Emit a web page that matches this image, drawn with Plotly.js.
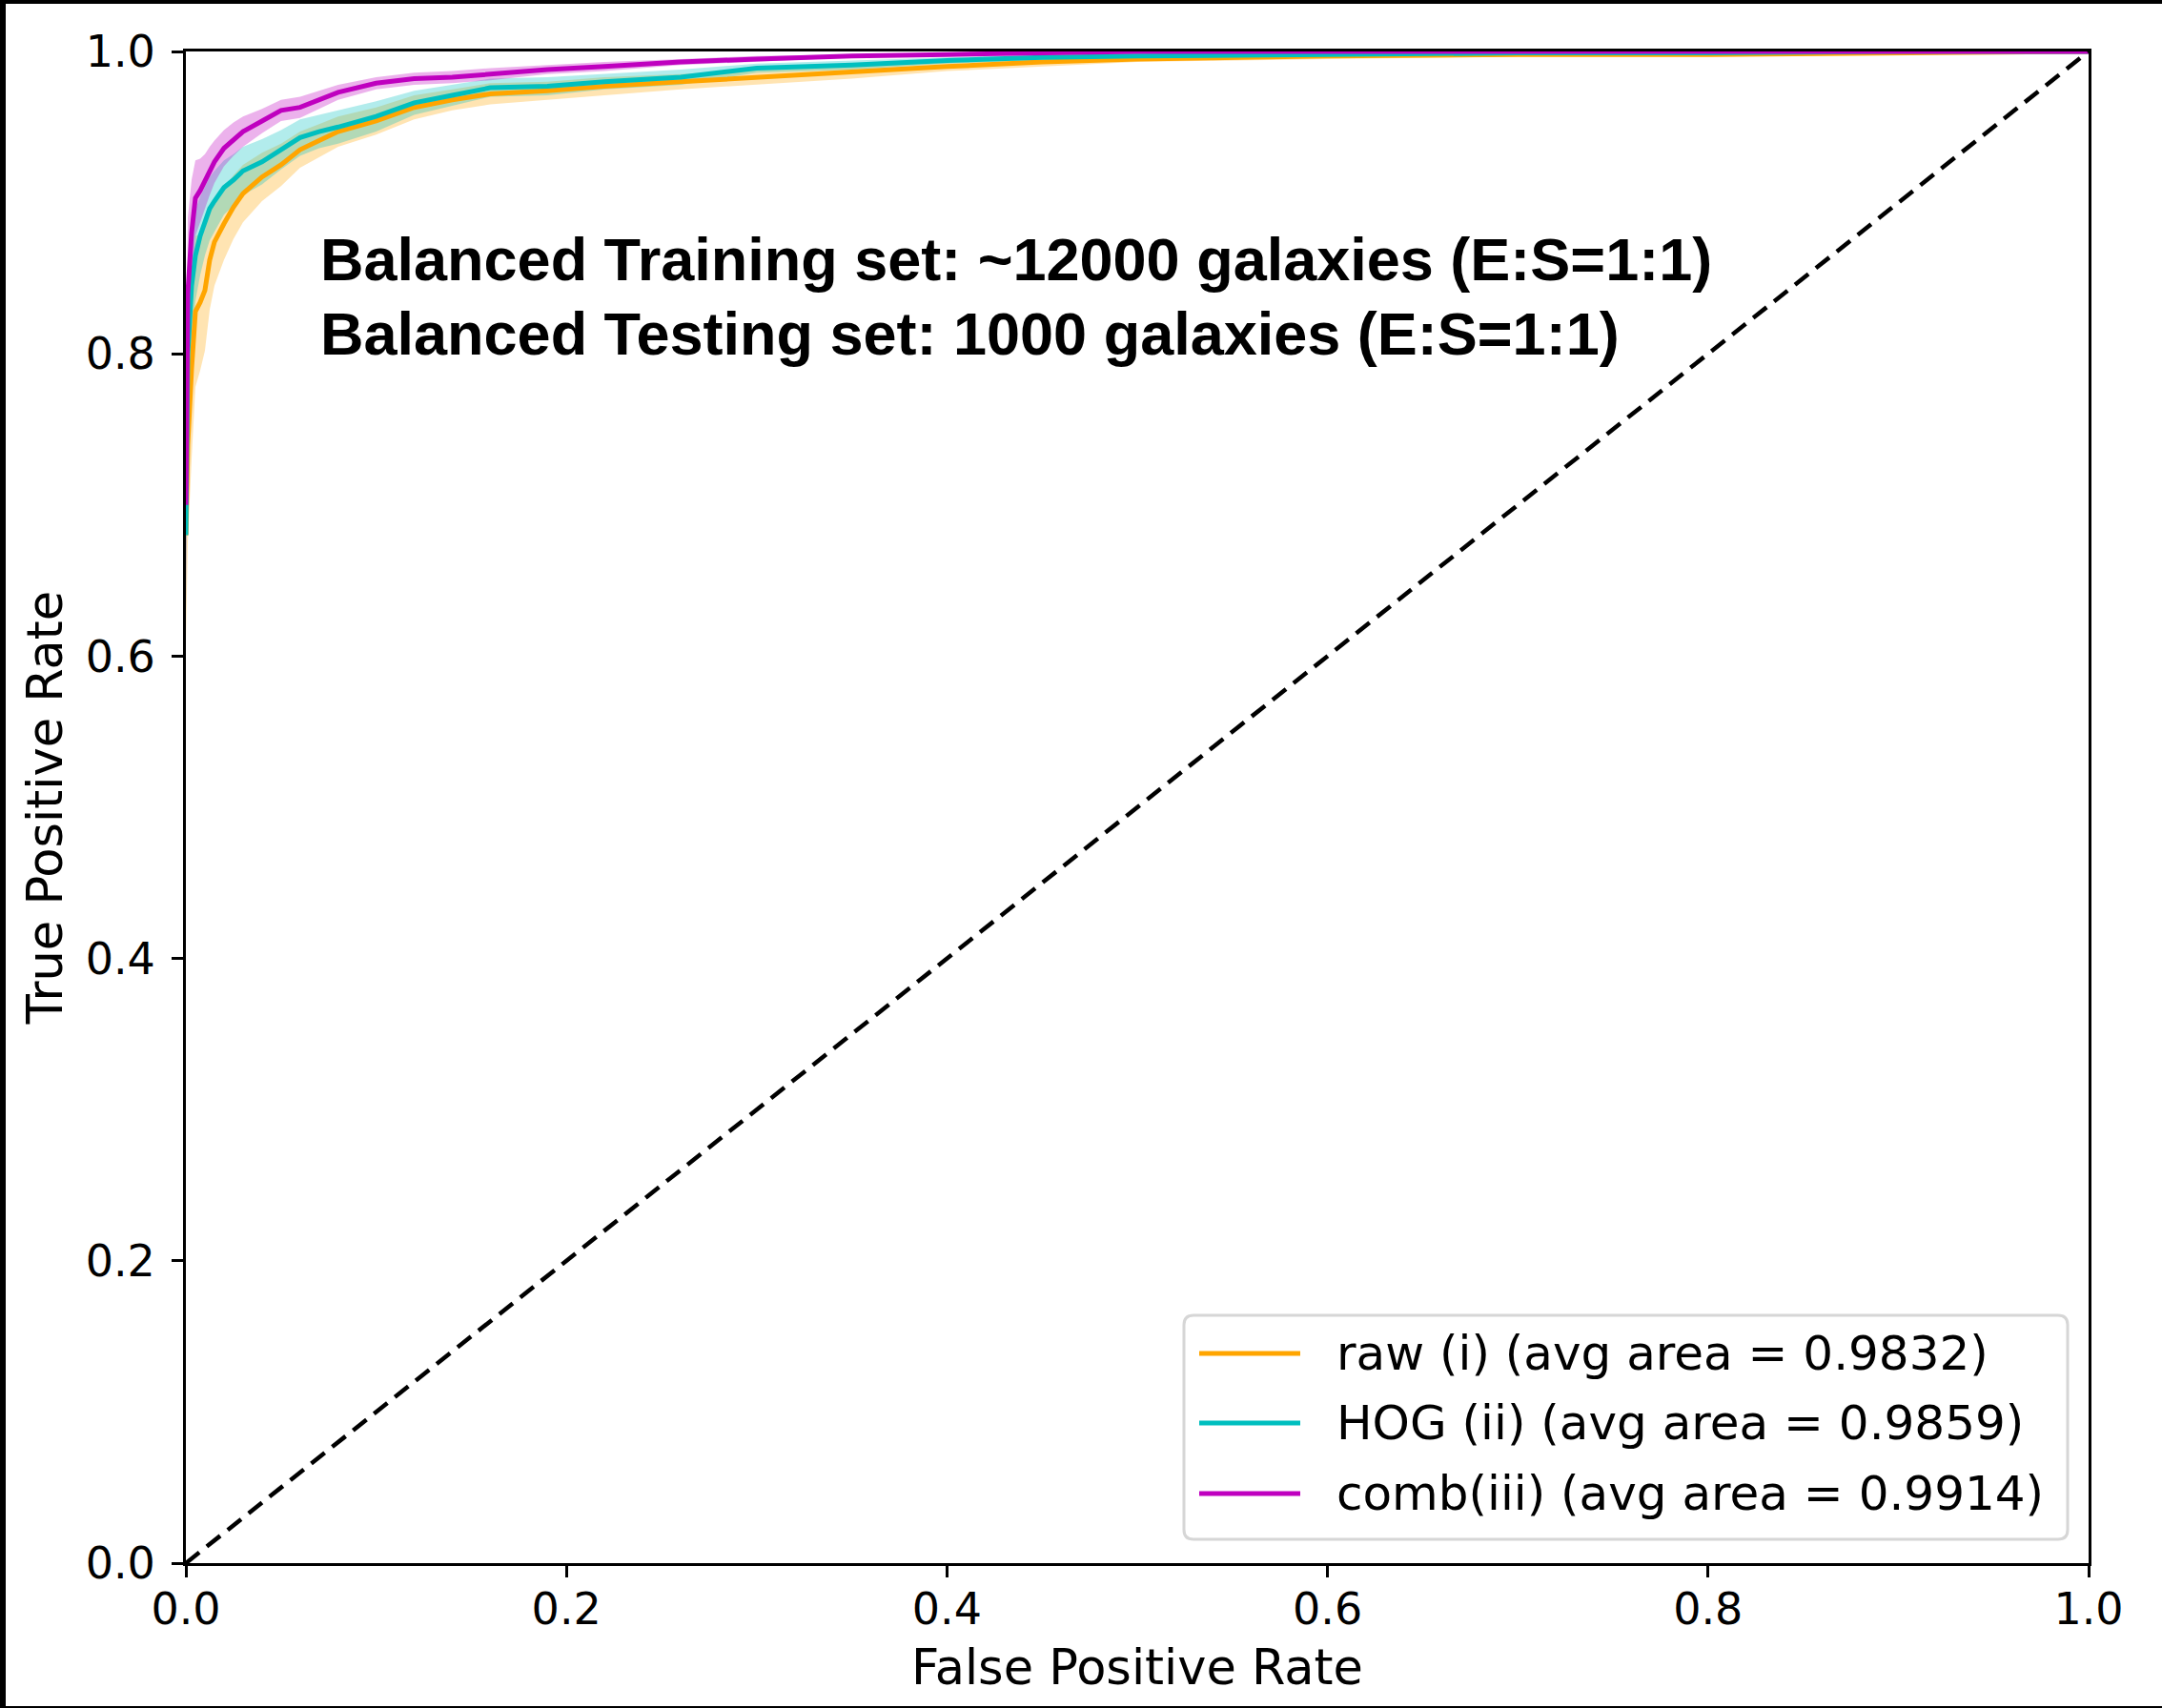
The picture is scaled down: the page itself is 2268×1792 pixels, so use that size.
<!DOCTYPE html>
<html>
<head>
<meta charset="utf-8">
<script src="https://cdn.plot.ly/plotly-3.0.1.min.js"></script>
<style>
  html, body { margin: 0; padding: 0; background: #ffffff; }
  #wrap { position: relative; width: 2268px; height: 1792px; }
  #chart { width: 2268px; height: 1792px; }
  #frame { position: absolute; left: 0; top: 0; width: 2268px; height: 1792px; box-sizing: border-box;
           border-left: 6px solid #000; border-top: 4px solid #000; border-bottom: 2px solid #000; pointer-events: none; }
</style>
</head>
<body>
<div id="wrap">
  <div id="chart"></div>
  <div id="frame"></div>
</div>
<script>
// ---- Data ----
const fpr = [0, 0.001, 0.003, 0.005, 0.0075, 0.01, 0.0125, 0.015, 0.02, 0.025, 0.03, 0.04, 0.05, 0.06, 0.07, 0.08,
             0.1, 0.12, 0.14, 0.16, 0.19, 0.22, 0.26, 0.3, 0.35, 0.4, 0.45, 0.5, 0.6, 0.7, 0.8, 0.9, 1.0];

const tprRaw = [0.68, 0.74, 0.79, 0.828, 0.834, 0.842, 0.862, 0.874, 0.886, 0.897, 0.906, 0.917, 0.925, 0.935, 0.941, 0.947,
                0.954, 0.963, 0.968, 0.972, 0.974, 0.977, 0.980, 0.983, 0.986, 0.990, 0.993, 0.995, 0.997, 0.998, 0.998, 0.999, 1.0];
const stdRaw = [0.07, 0.065, 0.06, 0.05, 0.045, 0.04, 0.033, 0.029, 0.024, 0.021, 0.019, 0.016, 0.014, 0.012, 0.011, 0.010,
                0.009, 0.008, 0.007, 0.007, 0.006, 0.006, 0.005, 0.005, 0.004, 0.003, 0.003, 0.002, 0.002, 0.0015, 0.0015, 0.001, 0.0];

const tprHog = [0.68, 0.80, 0.845, 0.865, 0.878, 0.888, 0.896, 0.901, 0.910, 0.915, 0.921, 0.927, 0.935, 0.943, 0.947, 0.950,
                0.957, 0.966, 0.971, 0.976, 0.977, 0.980, 0.983, 0.989, 0.991, 0.994, 0.996, 0.997, 0.998, 0.999, 0.999, 1.0, 1.0];
const stdHog = [0.05, 0.045, 0.035, 0.03, 0.026, 0.023, 0.021, 0.02, 0.018, 0.017, 0.016, 0.015, 0.013, 0.012, 0.011, 0.011,
                0.010, 0.008, 0.007, 0.006, 0.006, 0.005, 0.005, 0.003, 0.003, 0.002, 0.002, 0.002, 0.001, 0.001, 0.001, 0.0, 0.0];

const tprComb = [0.70, 0.84, 0.88, 0.903, 0.908, 0.914, 0.921, 0.927, 0.936, 0.942, 0.947, 0.954, 0.961, 0.963, 0.968, 0.973,
                 0.979, 0.982, 0.983, 0.985, 0.988, 0.990, 0.993, 0.995, 0.997, 0.998, 0.999, 1.0, 1.0, 1.0, 1.0, 1.0, 1.0];
const stdComb = [0.07, 0.05, 0.035, 0.025, 0.021, 0.018, 0.016, 0.014, 0.012, 0.011, 0.010, 0.008, 0.007, 0.007, 0.006, 0.005,
                 0.004, 0.004, 0.004, 0.004, 0.003, 0.003, 0.002, 0.002, 0.001, 0.001, 0.0, 0.0, 0.0, 0.0, 0.0, 0.0, 0.0];

const seriesNames = ['raw (i) (avg area = 0.9832)', 'HOG (ii) (avg area = 0.9859)', 'comb(iii) (avg area = 0.9914)'];
const diagX = [0, 1];
const diagY = [0, 1];
const xTicks = [0.0, 0.2, 0.4, 0.6, 0.8, 1.0];
const yTicks = [0.0, 0.2, 0.4, 0.6, 0.8, 1.0];
const noteLines = ['Balanced Training set: ~12000 galaxies (E:S=1:1)', 'Balanced Testing set: 1000 galaxies (E:S=1:1)'];

// ---- Styles / geometry ----
const W = 2268, H = 1792;
const M = {l: 195, r: 77, t: 54, b: 152};
const PW = W - M.l - M.r, PH = H - M.t - M.b;
const px2x = p => (p - M.l) / PW;          // pixel -> paper x
const px2y = p => (H - M.b - p) / PH;      // pixel -> paper y

const lineColors = ['#FFA500', '#00BFBF', '#BF00BF'];
const bandColors = ['rgba(255,165,0,0.3)', 'rgba(0,191,191,0.3)', 'rgba(191,0,191,0.3)'];
const means = [tprRaw, tprHog, tprComb];
const stds = [stdRaw, stdHog, stdComb];

const traces = [];
// bands first
for (let i = 0; i < 3; i++) {
  const upper = means[i].map((v, k) => Math.min(v + stds[i][k], 1));
  const lower = means[i].map((v, k) => Math.max(v - stds[i][k], 0));
  traces.push({
    x: fpr.concat(fpr.slice().reverse()),
    y: upper.concat(lower.slice().reverse()),
    type: 'scatter', mode: 'lines', fill: 'toself',
    fillcolor: bandColors[i], line: {width: 0, color: bandColors[i]},
    showlegend: false, hoverinfo: 'skip'
  });
}
// mean lines
for (let i = 0; i < 3; i++) {
  traces.push({
    x: fpr, y: means[i], type: 'scatter', mode: 'lines',
    name: seriesNames[i], line: {color: lineColors[i], width: 5}, showlegend: false
  });
}
// chance diagonal
traces.push({
  x: diagX, y: diagY, type: 'scatter', mode: 'lines',
  line: {color: '#000000', width: 4.5, dash: '18px,10px'}, showlegend: false
});

const tickFont = {family: 'DejaVu Sans', size: 46, color: '#000'};
const titleFont = {family: 'DejaVu Sans', size: 51, color: '#000'};
const legendFont = {family: 'DejaVu Sans', size: 50, color: '#000'};
const axisCommon = {
  range: [0, 1], showgrid: false, zeroline: false,
  showline: true, linecolor: '#000', linewidth: 3, mirror: true,
  ticks: 'outside', ticklen: 12, tickwidth: 3, tickcolor: '#000',
  tickfont: tickFont, tickformat: '.1f'
};

// ---- Legend (drawn as a box with line samples and labels) ----
const legBox = {x0: 1242, x1: 2169, y0: 1380, y1: 1615, r: 10};
const legRows = [1420, 1493, 1567];
const legLineX = [1258, 1364];
const legTextX = 1400;

function roundRectPath(b) {
  const rx = b.r / PW, ry = b.r / PH;
  const x0 = px2x(b.x0), x1 = px2x(b.x1), yT = px2y(b.y0), yB = px2y(b.y1);
  return `M${x0 + rx},${yT} L${x1 - rx},${yT} Q${x1},${yT} ${x1},${yT - ry} ` +
         `L${x1},${yB + ry} Q${x1},${yB} ${x1 - rx},${yB} ` +
         `L${x0 + rx},${yB} Q${x0},${yB} ${x0},${yB + ry} ` +
         `L${x0},${yT - ry} Q${x0},${yT} ${x0 + rx},${yT} Z`;
}

const shapes = [{
  type: 'path', xref: 'paper', yref: 'paper', path: roundRectPath(legBox),
  fillcolor: 'rgba(255,255,255,0.8)', line: {color: '#d6d6d6', width: 3}, layer: 'above'
}];
const annotations = [
  {xref: 'paper', yref: 'paper', x: px2x(334), y: px2y(272), xanchor: 'left', yanchor: 'middle',
   text: '<b>' + noteLines[0] + '</b>', showarrow: false,
   font: {family: 'Liberation Sans, Arial, sans-serif', size: 63, color: '#000'}},
  {xref: 'paper', yref: 'paper', x: px2x(334), y: px2y(350), xanchor: 'left', yanchor: 'middle',
   text: '<b>' + noteLines[1] + '</b>', showarrow: false,
   font: {family: 'Liberation Sans, Arial, sans-serif', size: 63, color: '#000'}}
];
for (let i = 0; i < 3; i++) {
  shapes.push({
    type: 'line', xref: 'paper', yref: 'paper', layer: 'above',
    x0: px2x(legLineX[0]), x1: px2x(legLineX[1]), y0: px2y(legRows[i]), y1: px2y(legRows[i]),
    line: {color: lineColors[i], width: 5}
  });
  annotations.push({
    xref: 'paper', yref: 'paper', x: px2x(legTextX), y: px2y(legRows[i]), xanchor: 'left', yanchor: 'middle',
    text: seriesNames[i], showarrow: false, font: legendFont
  });
}

const layout = {
  width: W, height: H,
  margin: M,
  paper_bgcolor: '#ffffff', plot_bgcolor: '#ffffff',
  font: tickFont,
  xaxis: Object.assign({}, axisCommon, {tickvals: xTicks, ticklabelstandoff: -6,
    title: {text: 'False Positive Rate', font: titleFont, standoff: 18}}),
  yaxis: Object.assign({}, axisCommon, {tickvals: yTicks, ticklabelstandoff: 8,
    title: {text: 'True Positive Rate', font: titleFont, standoff: 8}}),
  showlegend: false,
  shapes: shapes,
  annotations: annotations
};

Plotly.newPlot('chart', traces, layout, {staticPlot: true, displayModeBar: false});
</script>
</body>
</html>
